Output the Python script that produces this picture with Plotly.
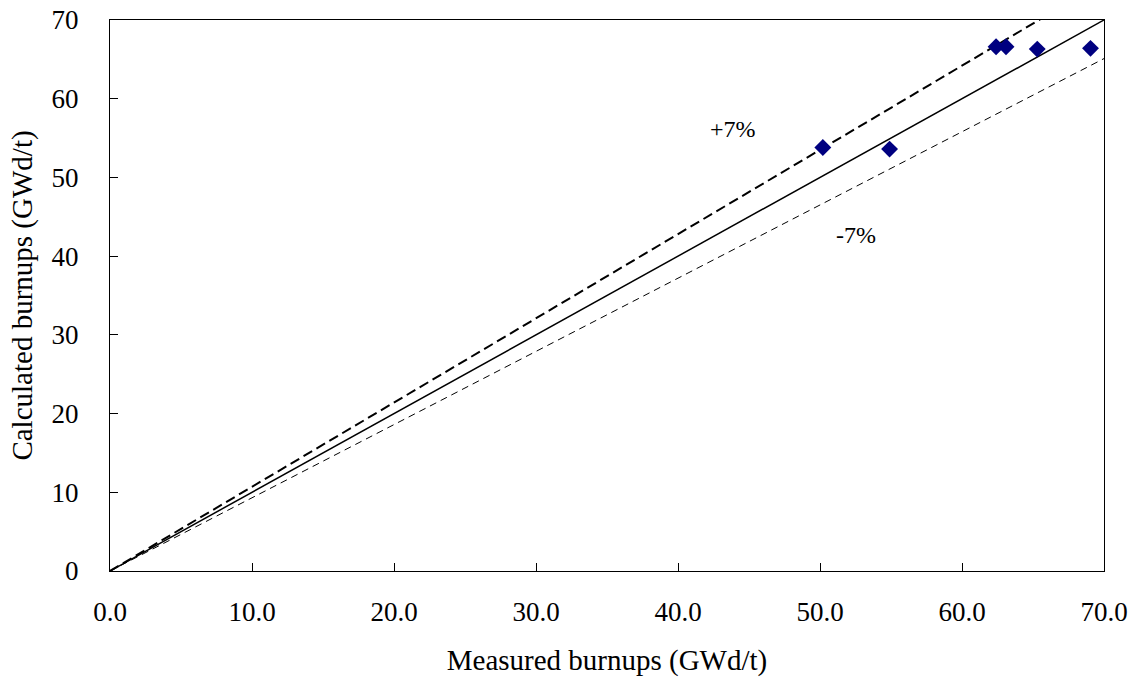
import plotly.graph_objects as go

measured = [50.2, 54.9, 62.4, 63.1, 65.3, 69.05]
calculated = [53.8, 53.6, 66.6, 66.6, 66.3, 66.4]

ref_x = [0, 70]
ref_y = [0, 70]
plus_x = [0, 70]
plus_y = [0, 74.9]
minus_x = [0, 70]
minus_y = [0, 65.1]

x_ticks = [0, 10, 20, 30, 40, 50, 60, 70]
y_ticks = [0, 10, 20, 30, 40, 50, 60, 70]

font_family = "Liberation Serif, Times New Roman, serif"

fig = go.Figure()
fig.add_trace(go.Scatter(x=ref_x, y=ref_y, mode="lines",
                         line=dict(color="black", width=1.5), showlegend=False))
fig.add_trace(go.Scatter(x=plus_x, y=plus_y, mode="lines",
                         line=dict(color="black", width=2, dash="10px,5px"), showlegend=False))
fig.add_trace(go.Scatter(x=minus_x, y=minus_y, mode="lines",
                         line=dict(color="black", width=1, dash="7px,5px"), showlegend=False))
fig.add_trace(go.Scatter(x=measured, y=calculated, mode="markers",
                         marker=dict(symbol="diamond", size=13, color="#000080"),
                         showlegend=False))

fig.add_annotation(x=43.9, y=56.2, text="+7%", showarrow=False,
                   font=dict(family=font_family, size=24, color="black"))
fig.add_annotation(x=52.5, y=42.7, text="-7%", showarrow=False,
                   font=dict(family=font_family, size=24, color="black"))

fig.update_layout(
    width=1135, height=684,
    margin=dict(l=110, r=31, t=20, b=113, autoexpand=False),
    paper_bgcolor="white", plot_bgcolor="white",
    font=dict(family=font_family, color="black"),
    xaxis=dict(range=[0, 70], tickvals=x_ticks, tickformat=".1f", automargin=False,
               showgrid=False, zeroline=False, showline=True, linecolor="black",
               linewidth=1, mirror=True, ticks="inside", ticklen=8, tickcolor="black",
               tickfont=dict(size=27), ticklabelstandoff=17,
               title=dict(text="Measured burnups (GWd/t)", font=dict(size=29), standoff=23)),
    yaxis=dict(range=[0, 70], tickvals=y_ticks, automargin=False,
               showgrid=False, zeroline=False, showline=True, linecolor="black",
               linewidth=1, mirror=True, ticks="inside", ticklen=8, tickcolor="black",
               tickfont=dict(size=27), ticklabelstandoff=25,
               title=dict(text="Calculated burnups (GWd/t)", font=dict(size=29), standoff=10)),
)

fig.write_html("out.html")
